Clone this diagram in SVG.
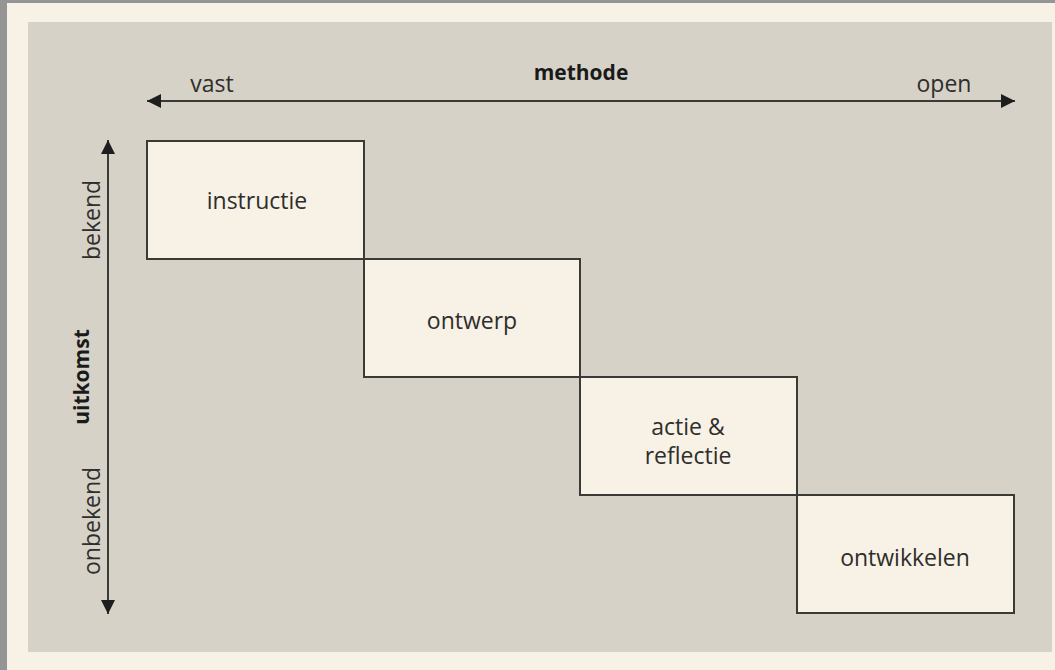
<svg xmlns="http://www.w3.org/2000/svg" width="1055" height="670" viewBox="0 0 1055 670">
<defs>
<marker id="ah" viewBox="0 0 10 10" refX="10" refY="5" markerWidth="15" markerHeight="14" markerUnits="userSpaceOnUse" orient="auto-start-reverse">
<path d="M0,0 L10,5 L0,10 z" fill="#1e1e1e"/>
</marker>
<style>
.box{fill:#f8f1e6;stroke:#3a3a36;stroke-width:2}
.t{font-family:"Open Sans","Noto Sans","Liberation Sans",sans-serif;font-size:23px;fill:#2e2e2c;text-anchor:middle}
.b{font-weight:bold;font-size:21px;fill:#1a1a1a}
.ax{stroke:#3a3a36;stroke-width:2;fill:none;marker-start:url(#ah);marker-end:url(#ah)}
</style>
</defs>
<rect x="0" y="0" width="1055" height="670" fill="#959595"/>
<rect x="7" y="3" width="1048" height="667" fill="#f8f1e6"/>
<rect x="28" y="22" width="1024" height="630" fill="#d6d2c8"/>
<g id="connectors">
<line class="ax" x1="147" y1="101" x2="1015" y2="101"/>
<line class="ax" x1="108" y1="140" x2="108" y2="614"/>
</g>
<g id="labels">
<text class="t" x="212" y="92">vast</text>
<text class="t b" x="581" y="80">methode</text>
<text class="t" x="944" y="92">open</text>
<text class="t" transform="translate(100,220) rotate(-90)">bekend</text>
<text class="t b" transform="translate(89,377) rotate(-90)">uitkomst</text>
<text class="t" transform="translate(100,521) rotate(-90)">onbekend</text>
</g>
<g id="instructie"><rect class="box" x="147" y="141" width="217" height="118"/><text class="t" x="257" y="209">instructie</text></g>
<g id="ontwerp"><rect class="box" x="364" y="259" width="216" height="118"/><text class="t" x="472" y="329">ontwerp</text></g>
<g id="actie"><rect class="box" x="580" y="377" width="217" height="118"/><text class="t" x="688" y="435">actie &amp;</text><text class="t" x="688" y="464">reflectie</text></g>
<g id="ontwikkelen"><rect class="box" x="797" y="495" width="217" height="118"/><text class="t" x="905" y="566">ontwikkelen</text></g>
</svg>
